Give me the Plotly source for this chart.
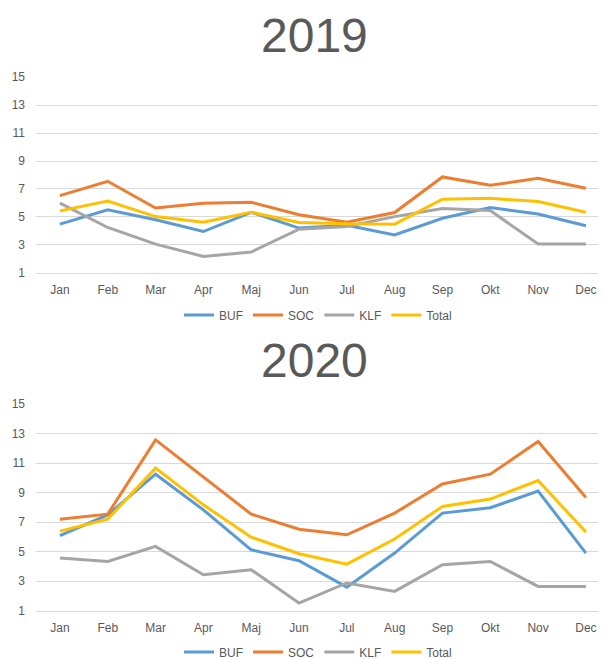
import plotly.graph_objects as go

months = ["Jan", "Feb", "Mar", "Apr", "Maj", "Jun", "Jul", "Aug", "Sep", "Okt", "Nov", "Dec"]
series_names = ["BUF", "SOC", "KLF", "Total"]
colors = ["#5B9BD5", "#ED7D31", "#A5A5A5", "#FFC000"]

# 2019
buf_2019 = [4.48, 5.5, 4.79, 3.95, 5.33, 4.2, 4.4, 3.71, 4.9, 5.67, 5.21, 4.36]
soc_2019 = [6.52, 7.55, 5.64, 5.98, 6.05, 5.15, 4.62, 5.31, 7.86, 7.26, 7.76, 7.05]
klf_2019 = [5.98, 4.24, 3.05, 2.17, 2.48, 4.12, 4.31, 5.02, 5.6, 5.45, 3.05, 3.05]
total_2019 = [5.43, 6.14, 5.02, 4.62, 5.33, 4.6, 4.5, 4.48, 6.26, 6.33, 6.1, 5.33]

# 2020
buf_2020 = [6.1, 7.5, 10.26, 7.84, 5.13, 4.39, 2.6, 4.91, 7.62, 7.98, 9.11, 4.91]
soc_2020 = [7.21, 7.55, 12.59, 10.06, 7.55, 6.53, 6.15, 7.62, 9.6, 10.26, 12.47, 8.68]
klf_2020 = [4.57, 4.34, 5.36, 3.44, 3.78, 1.52, 2.88, 2.31, 4.12, 4.34, 2.65, 2.65]
total_2020 = [6.4, 7.21, 10.67, 8.18, 5.99, 4.86, 4.16, 5.86, 8.07, 8.57, 9.83, 6.33]

y_ticks = [1, 3, 5, 7, 9, 11, 13, 15]

# the page body has an 8px margin, so the figure is 8px smaller than the window
OFF = 8
W, H = 606 - OFF, 659 - OFF
FONT = "Liberation Sans, Arial, sans-serif"
TXT = "#595959"
GRID = "#D9D9D9"

fig = go.Figure()

panels = [
    ([buf_2019, soc_2019, klf_2019, total_2019], "x", "y", "legend"),
    ([buf_2020, soc_2020, klf_2020, total_2020], "x2", "y2", "legend2"),
]
for data, xa, ya, lg in panels:
    for name, vals, col in zip(series_names, data, colors):
        fig.add_trace(go.Scatter(
            x=months, y=vals, name=name, mode="lines",
            line=dict(color=col, width=3),
            xaxis=xa, yaxis=ya, legend=lg,
        ))


def py(px):
    # window pixel row -> paper y
    return 1 - (px - OFF) / H


def pxx(px):
    # window pixel column -> paper x (paper spans the plot width here)
    return (px - OFF - 28) / (W - 28)


axis_x = dict(type="category", range=[-0.5, 11.42], showgrid=False,
              showline=True, linecolor=GRID, linewidth=1, ticks="",
              ticklabelstandoff=6,
              tickfont=dict(family=FONT, size=12, color=TXT), fixedrange=True)
axis_y = dict(range=[0.98, 15.02], tickvals=y_ticks, showgrid=True,
              gridcolor=GRID, gridwidth=1, zeroline=False, ticks="",
              ticklabelstandoff=10,
              tickfont=dict(family=FONT, size=12, color=TXT), fixedrange=True)

legend_style = dict(orientation="h", xanchor="center", yanchor="middle",
                    x=pxx(318),
                    font=dict(family=FONT, size=12, color=TXT),
                    itemwidth=30, bgcolor="rgba(0,0,0,0)", tracegroupgap=0)

fig.update_layout(
    width=W, height=H,
    margin=dict(l=28, r=0, t=0, b=0, autoexpand=False),
    paper_bgcolor="white", plot_bgcolor="white",
    font=dict(family=FONT, color=TXT),
    xaxis=dict(axis_x, domain=[0, 1], anchor="y"),
    yaxis=dict(axis_y, domain=[py(273), py(77)], anchor="x"),
    xaxis2=dict(axis_x, domain=[0, 1], anchor="y2"),
    yaxis2=dict(axis_y, domain=[py(611), py(404)], anchor="x2"),
    legend=dict(legend_style, y=py(315)),
    legend2=dict(legend_style, y=py(652)),
    annotations=[
        dict(text="2019", x=pxx(314), y=1, xref="paper", yref="paper",
             xanchor="center", yanchor="top", borderpad=0, showarrow=False,
             font=dict(family=FONT, size=48, color=TXT)),
        dict(text="2020", x=pxx(314), y=py(360), xref="paper", yref="paper",
             xanchor="center", yanchor="middle", showarrow=False,
             font=dict(family=FONT, size=48, color=TXT)),
    ],
)

fig.write_html("out.html", config={"displayModeBar": False})
